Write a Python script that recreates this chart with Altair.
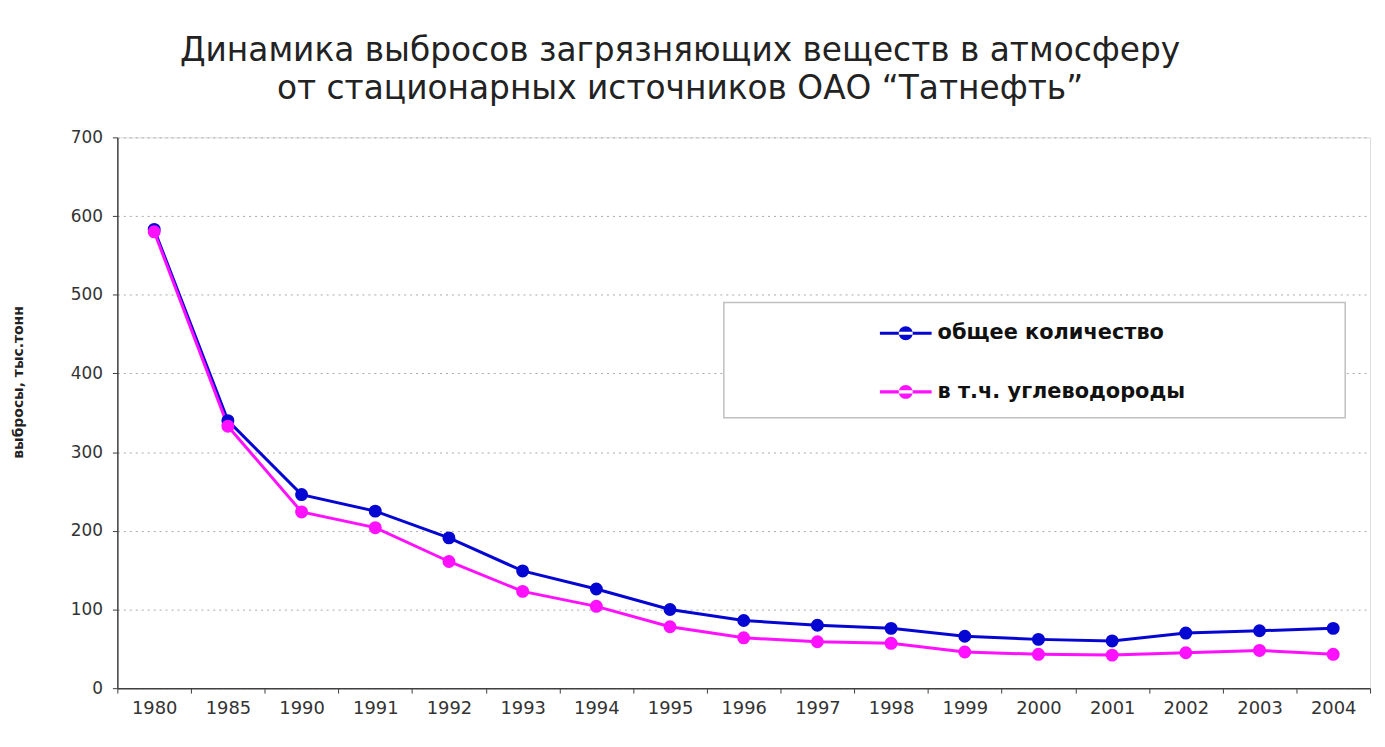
import altair as alt
import pandas as pd

years = ["1980", "1985", "1990", "1991", "1992", "1993", "1994", "1995", "1996",
         "1997", "1998", "1999", "2000", "2001", "2002", "2003", "2004"]
total = [583, 340, 246, 225, 191, 149, 126, 100, 86, 80, 76, 66, 62, 60, 70, 73, 76]
hydro = [580, 333, 224, 204, 161, 123, 104, 78, 64, 59, 57, 46, 43, 42, 45, 48, 43]
series_names = ["общее количество", "в т.ч. углеводороды"]
series_colors = ["#0606d2", "#ff10ff"]
title_lines = ["Динамика выбросов загрязняющих веществ в атмосферу",
               "от стационарных источников ОАО “Татнефть”"]
y_title = "выбросы, тыс.тонн"
y_ticks = [0, 100, 200, 300, 400, 500, 600, 700]

rows = []
for yr, a, b in zip(years, total, hydro):
    rows.append({"year": yr, "series": series_names[0], "value": a, "order": 0})
    rows.append({"year": yr, "series": series_names[1], "value": b, "order": 1})
df = pd.DataFrame(rows).sort_values(["order"], kind="stable")

FONT = "DejaVu Sans"
W, H = 1260, 554

x = alt.X("year:N", sort=years,
          scale=alt.Scale(paddingInner=0, paddingOuter=0),
          axis=alt.Axis(title=None, labelAngle=0, tickBand="extent", grid=False,
                        labelFont=FONT, labelFontSize=18, labelColor="#333",
                        tickSize=5, tickColor="#404040", labelPadding=6,
                        domainColor="#404040", domainWidth=1.5))
y = alt.Y("value:Q",
          scale=alt.Scale(domain=[0, 700], nice=False),
          axis=alt.Axis(title=y_title, values=y_ticks, grid=True,
                        gridDash=[2, 4], gridColor="#a8a8a8", gridWidth=1,
                        labelFont=FONT, labelFontSize=17, labelColor="#333",
                        tickSize=5, tickColor="#404040", labelPadding=10,
                        domainColor="#404040", domainWidth=1.5,
                        titleFont=FONT, titleFontSize=14, titleFontWeight="bold",
                        titleColor="#222", titleAngle=-90, titleX=-99, titleY=246,
                        titleAlign="center", titleBaseline="middle"))

PATH = ("M-1,-0.06L1,-0.06L1,0.06L-1,0.06Z "
        "M-0.27,0A0.27,0.27,0,1,0,0.27,0A0.27,0.27,0,1,0,-0.27,0Z")


def make_legend():
    return alt.Legend(title=None, orient="none", legendX=767, legendY=171,
                      symbolType=PATH, symbolSize=2704,
                      symbolStrokeWidth=0, symbolOpacity=1,
                      labelFont=FONT, labelFontSize=21,
                      labelFontWeight="bold", labelColor="#111",
                      labelOffset=6, rowPadding=23, padding=0,
                      labelLimit=400)


color_scale = alt.Scale(domain=series_names, range=series_colors)

base = alt.Chart(df)

lines = base.mark_line(strokeWidth=3).encode(
    x=x, y=y,
    stroke=alt.Stroke("series:N", sort=series_names, scale=color_scale,
                      legend=make_legend()),
    order=alt.Order("order:Q"),
)

points = base.mark_circle(size=170, opacity=1).encode(
    x=x, y=y,
    fill=alt.Fill("series:N", sort=series_names, scale=color_scale,
                  legend=make_legend()),
    order=alt.Order("order:Q"),
)

one = pd.DataFrame({"k": [0]})
legend_box = alt.Chart(one).mark_rect(fill="white", stroke="#c0c0c0", strokeWidth=1.5).encode(
    x=alt.value(610), x2=alt.value(1235), y=alt.value(166), y2=alt.value(282))

chart = alt.layer(legend_box, lines, points).properties(
    width=W, height=H,
    title=alt.TitleParams(text=title_lines, font=FONT, fontSize=33, fontWeight="normal",
                          color="#222", anchor="middle", offset=23, dx=-64,
                          lineHeight=38),
    autosize=alt.AutoSizeParams(type="none"),
    padding={"left": 110, "top": 128, "right": 7, "bottom": 49},
).configure_view(
    stroke="#c0c0c0", strokeWidth=1.5
).configure(background="white")

chart.save("out.html", embed_options={"renderer": "svg", "actions": False})
